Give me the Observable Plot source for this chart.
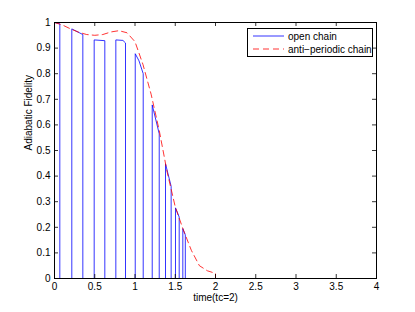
<!DOCTYPE html>
<html>
<head>
<meta charset="utf-8">
<script src="https://cdn.jsdelivr.net/npm/d3@7"></script>
<script src="https://cdn.jsdelivr.net/npm/@observablehq/plot@0.6"></script>
<style>
  html, body { margin: 0; padding: 0; background: #fff; }
  #chart { width: 415px; height: 312px; }
</style>
</head>
<body>
<div id="chart"></div>
<script>
// open chain (polyline vertices: time, fidelity)
const openT = [0, 0.066, 0.066, 0.215, 0.215, 0.352, 0.352, 0.493, 0.493, 0.625, 0.625, 0.762, 0.762, 0.85, 0.882, 0.882, 1.003, 1.003, 1.05, 1.102, 1.102, 1.214, 1.214, 1.301, 1.301, 1.379, 1.379, 1.449, 1.449, 1.503, 1.503, 1.549, 1.549, 1.594, 1.594, 1.625, 1.625, 4];
const openF = [1, 0.995, 0, 0, 0.975, 0.953, 0, 0, 0.932, 0.929, 0, 0, 0.932, 0.93, 0.92, 0, 0, 0.878, 0.85, 0.80, 0, 0, 0.678, 0.565, 0, 0, 0.448, 0.36, 0, 0, 0.276, 0.24, 0, 0, 0.195, 0.17, 0, 0];
// anti-periodic chain
const antiT = [0, 0.1, 0.2, 0.3, 0.4, 0.5, 0.6, 0.7, 0.8, 0.9, 1.0, 1.1, 1.2, 1.3, 1.4, 1.5, 1.6, 1.7, 1.8, 1.9, 2.0, 2.0, 4];
const antiF = [1.0, 0.99, 0.975, 0.962, 0.953, 0.95, 0.953, 0.963, 0.968, 0.96, 0.925, 0.835, 0.72, 0.58, 0.415, 0.28, 0.19, 0.11, 0.05, 0.03, 0.02, 0, 0];
const xTicks = [0, 0.5, 1, 1.5, 2, 2.5, 3, 3.5, 4];
const yTicks = [0, 0.1, 0.2, 0.3, 0.4, 0.5, 0.6, 0.7, 0.8, 0.9, 1];
const seriesNames = ["open chain", "anti\u2212periodic chain"];
const xLabel = "time(tc=2)";
const yLabel = "Adiabatic Fidelity";

const openData = openT.map((t, i) => ({t, f: openF[i]}));
const antiData = antiT.map((t, i) => ({t, f: antiF[i]}));

const W = 415, H = 312;
const mL = 54, mR = 39, mT = 22, mB = 34;
const fw = W - mL - mR, fh = H - mT - mB;
const font = "Liberation Sans, Arial, Helvetica, sans-serif";

const plot = Plot.plot({
  width: W, height: H,
  marginLeft: mL, marginRight: mR, marginTop: mT, marginBottom: mB,
  style: {fontFamily: font, fontSize: "10px", color: "#000", background: "#fff", overflow: "visible"},
  x: {domain: [0, 4]},
  y: {domain: [0, 1]},
  marks: [
    Plot.line(openData, {x: "t", y: "f", stroke: "#0000ff", strokeWidth: 0.8}),
    Plot.line(antiData, {x: "t", y: "f", stroke: "#ff0000", strokeWidth: 0.8, strokeDasharray: "6,4"}),
    // inward ticks on all four sides
    Plot.ruleX(xTicks, {x: d => d, insetTop: fh - 4, stroke: "#000", strokeWidth: 0.8}),
    Plot.ruleX(xTicks, {x: d => d, insetBottom: fh - 4, stroke: "#000", strokeWidth: 0.8}),
    Plot.ruleY(yTicks, {y: d => d, insetRight: fw - 4, stroke: "#000", strokeWidth: 0.8}),
    Plot.ruleY(yTicks, {y: d => d, insetLeft: fw - 4, stroke: "#000", strokeWidth: 0.8}),
    Plot.axisX(xTicks, {tickSize: 0, tickPadding: 4, label: null, tickFormat: d => String(d)}),
    Plot.axisY(yTicks, {tickSize: 0, tickPadding: 4, label: null, tickFormat: d => String(d)}),
    Plot.text([xLabel], {frameAnchor: "bottom", dy: 22, text: d => d, fontSize: 10}),
    Plot.text([yLabel], {frameAnchor: "left", dx: -26, rotate: -90, text: d => d, fontSize: 10}),
    Plot.frame({stroke: "#000", strokeWidth: 1})
  ]
});
document.getElementById("chart").appendChild(plot);

// legend box (inside plot, top-right)
const svg = d3.select(plot);
const lx = 247, ly = 28, lw = 125, lh = 28;
const g = svg.append("g").attr("font-family", font).attr("font-size", 10).attr("text-anchor", "start");
g.append("rect").attr("x", lx + 0.5).attr("y", ly + 0.5).attr("width", lw).attr("height", lh)
  .attr("fill", "#fff").attr("stroke", "#000").attr("stroke-width", 1);
const styles = [{stroke: "#0000ff", dash: null}, {stroke: "#ff0000", dash: "6,4"}];
seriesNames.forEach((name, i) => {
  const yy = ly + 8 + i * 13;
  g.append("line").attr("x1", lx + 6).attr("x2", lx + 37).attr("y1", yy).attr("y2", yy)
    .attr("stroke", styles[i].stroke).attr("stroke-width", 0.8)
    .attr("stroke-dasharray", styles[i].dash);
  g.append("text").attr("x", lx + 41).attr("y", yy).attr("dy", "0.35em")
    .attr("text-anchor", "start").attr("fill", "#000").text(name);
});
</script>
</body>
</html>
